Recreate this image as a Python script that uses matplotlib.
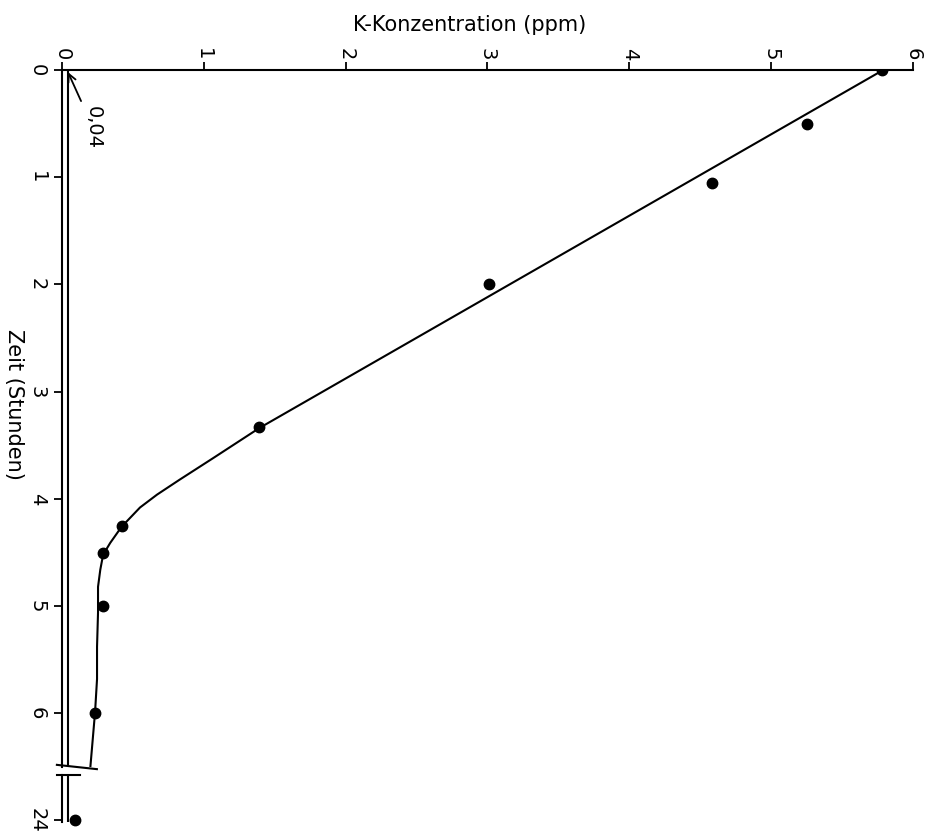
import matplotlib
matplotlib.use("Agg")
import matplotlib.pyplot as plt

# ---- data ----
# measured points (time in hours, K concentration in ppm)
time_h = [0, 0.5, 1.05, 2.0, 3.33, 4.25, 4.5, 5.0, 6.0, 24.0]
conc_ppm = [5.78, 5.25, 4.58, 3.01, 1.39, 0.42, 0.29, 0.29, 0.23, 0.09]

# hand-drawn fit curve
curve_t = [0.0, 3.34, 3.62, 3.82, 3.96, 4.08, 4.26, 4.41, 4.52, 4.66, 4.82,
           5.06, 5.38, 5.68, 5.99, 6.5]
curve_c = [5.79, 1.39, 1.065, 0.83, 0.67, 0.55, 0.42, 0.34, 0.29, 0.27, 0.254,
           0.254, 0.247, 0.247, 0.233, 0.20]

baseline_ppm = 0.04
conc_ticks = [0, 1, 2, 3, 4, 5, 6]
time_ticks_top = [0, 1, 2, 3, 4, 5, 6]
time_ticks_bottom = [24]

W, H = 929, 835
fig = plt.figure(figsize=(W / 100, H / 100), dpi=100)
fig.patch.set_facecolor("white")

left, right = 62, 913
top_y, brk_y = 70, 767
low_top, low_bot = 775, 822

ax = fig.add_axes([left / W, 1 - brk_y / H, (right - left) / W, (brk_y - top_y) / H])
axb = fig.add_axes([left / W, 1 - low_bot / H, (right - left) / W, (low_bot - low_top) / H])

lw_axis = 1.5
for a in (ax, axb):
    a.set_facecolor("none")
    for s in ("right", "bottom"):
        a.spines[s].set_visible(False)
    a.spines["left"].set_linewidth(lw_axis)
    a.spines["top"].set_linewidth(lw_axis)
    a.set_xlim(0, 6)

axb.spines["top"].set_visible(False)

# upper (0 - 6.5 h) part
ax.set_ylim(6.5, 0)
ax.xaxis.tick_top()
ax.set_xticks(conc_ticks)
ax.set_xticklabels([str(v) for v in conc_ticks], rotation=-90)
ax.set_yticks(time_ticks_top)
ax.set_yticklabels([str(v) for v in time_ticks_top], rotation=-90, va="center")
ax.tick_params(axis="x", direction="out", length=6, width=1.3, labelsize=14, pad=1)
ax.tick_params(axis="y", direction="out", length=6, width=1.3, labelsize=14, pad=5)

ax.axvline(baseline_ppm, color="black", lw=1.5, zorder=2)
ax.plot(curve_c, curve_t, color="black", lw=1.5, zorder=3)
ax.plot(conc_ppm[:-1], time_h[:-1], "o", color="black", ms=7.5, zorder=4)

# break marker at the end of upper part
ax.plot([-0.006, 0.041], [6.48, 6.52], color="black", lw=1.5,
        transform=ax.get_yaxis_transform(), clip_on=False)

ax.annotate("0,04", xy=(0.042, 0.02), xytext=(0.22, 0.54),
            rotation=-90, ha="center", va="center", fontsize=14,
            arrowprops=dict(arrowstyle="->", color="black", lw=1.3,
                            shrinkA=2, shrinkB=0))

ax.set_xlabel("K-Konzentration (ppm)", fontsize=15)
ax.xaxis.set_label_position("top")
ax.xaxis.set_label_coords((470 - left) / (right - left), 1 + (top_y - 25) / (brk_y - top_y))
ax.xaxis.label.set_va("center")

ax.set_ylabel("Zeit (Stunden)", fontsize=15, rotation=-90)
ax.yaxis.set_label_coords((14 - left) / (right - left), 1 - (404 - top_y) / (brk_y - top_y))
ax.yaxis.label.set_va("center")
ax.yaxis.label.set_ha("center")

# lower (24 h) part
axb.set_ylim(24.02, 23.55)
axb.set_xticks([])
axb.set_yticks(time_ticks_bottom)
axb.set_yticklabels([str(v) for v in time_ticks_bottom], rotation=-90, va="center")
axb.tick_params(axis="y", direction="out", length=6, width=1.3, labelsize=14, pad=5)
axb.axvline(baseline_ppm, color="black", lw=1.5, zorder=2)
axb.plot(conc_ppm[-1:], time_h[-1:], "o", color="black", ms=7.5, zorder=4, clip_on=False)
axb.plot([-0.006, 0.021], [1, 1], color="black", lw=1.5,
         transform=axb.transAxes, clip_on=False)

fig.savefig("out.png", dpi=100, facecolor="white")
